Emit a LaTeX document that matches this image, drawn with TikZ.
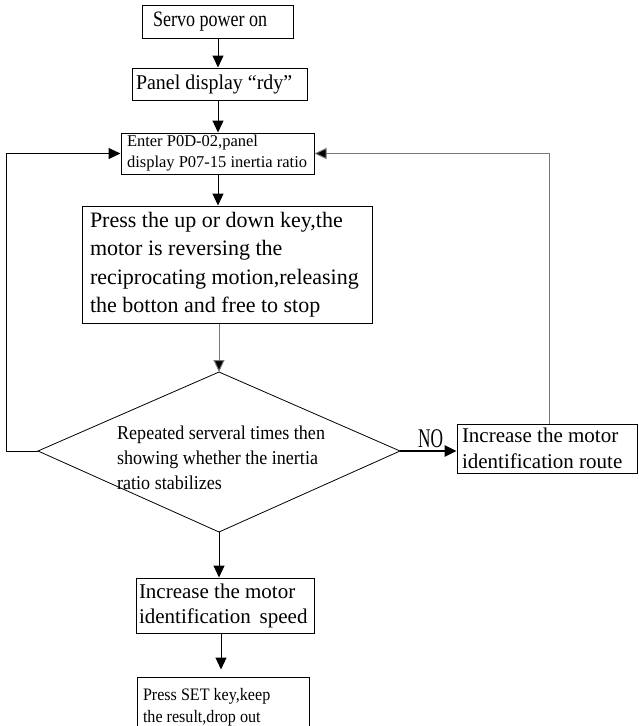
\documentclass[tikz,border=0pt]{standalone}
\usepackage{fontspec}
\setmainfont{Liberation Serif}
\newfontfamily\fA[FakeStretch=0.82]{Liberation Serif}
\newfontfamily\fB[FakeStretch=0.95]{Liberation Serif}
\newfontfamily\fC[FakeStretch=0.92]{Liberation Serif}
\newfontfamily\fN[FakeStretch=0.64]{Liberation Serif}
\usetikzlibrary{arrows.meta,shapes.geometric}
\definecolor{lgray}{RGB}{120,120,120}
\tikzset{
  box/.style={draw, line width=1pt, rectangle, inner ysep=0pt, align=flush left},
  arr/.style={-{Triangle[length=12pt,width=11pt]}, line width=1pt},
  garr/.style={draw=lgray, -{Triangle[length=12pt,width=11pt,fill=black]}, line width=1pt},
}
\begin{document}
\begin{tikzpicture}[x=1pt,y=-1pt]
\useasboundingbox (0,0) rectangle (638,726);
\coordinate (axis) at (218,0);
\coordinate (rx) at (549,0);
% boxes
\node[box, minimum width=151pt, minimum height=33pt, inner xsep=11pt, text width=129pt,
      font=\fA\fontsize{22}{26}\selectfont] (b1) at (217.5,21.5) {Servo power on};
\node[box, minimum width=175pt, minimum height=32pt, inner xsep=4pt, text width=167pt,
      font=\fB\fontsize{21}{25}\selectfont] (b2) at (219.5,84) {Panel display “rdy”};
\node[box, minimum width=193pt, minimum height=41pt, inner xsep=6pt, text width=181pt,
      font=\fontsize{16.5}{21}\selectfont] (b3) at (217.5,153.5) {Enter P0D-02,panel\\display P07-15 inertia ratio};
\node[box, minimum width=290pt, minimum height=117pt, inner xsep=8pt, text width=274pt,
      font=\fontsize{22}{28.5}\selectfont] (b4) at (227,264.5) {Press the up or down key,the\\motor is reversing the\\reciprocating motion,releasing\\the botton and free to stop};
\coordinate (dtop) at (219,372);
\coordinate (dbot) at (219,532);
\coordinate (dleft) at (38,451);
\coordinate (dright) at (400,451);
\draw[line width=0.8pt] (dtop) -- (dright) -- (dbot) -- (dleft) -- cycle;
\node[anchor=west, inner sep=0pt, align=left, font=\fC\fontsize{19.6}{25}\selectfont] (dtext) at (117,458)
  {Repeated serveral times then\\showing whether the inertia\\ratio stabilizes};
\node[box, minimum width=180pt, minimum height=49pt, inner xsep=5pt, text width=170pt,
      font=\fontsize{21}{26}\selectfont] (br) at (547,448.5) {Increase the motor\\identification route};
\node[box, minimum width=178pt, minimum height=55pt, inner xsep=3pt, text width=172pt,
      font=\fontsize{21}{25}\selectfont] (b5) at (225,605.5) {Increase the motor\\identification\ \,speed};
\node[box, minimum width=172pt, minimum height=60pt, inner xsep=6pt, text width=160pt,
      font=\fC\fontsize{17.5}{22}\selectfont] (b6) at (223,707) {Press SET key,keep\\the result,drop out};
\node[inner sep=0pt, anchor=base, font=\fN\fontsize{27}{30}\selectfont] (no) at (430.5,447) {NO};
\coordinate (lc) at (6,451);
% connectors
\draw[arr] (b1.south -| axis) -- (b2.north -| axis);
\draw[arr] (b2.south -| axis) -- (b3.north -| axis);
\draw[arr] (b3.south -| axis) -- (b4.north -| axis);
\draw[garr] (b4.south -| dtop) -- (dtop);
\draw[-{Triangle[length=12pt,width=11pt]}, line width=2.5pt] (dright) -- (dright -| br.west);
\draw[garr] (br.north -| rx) |- (b3.east);
\draw[arr] (dleft) -- (lc) |- (b3.west);
\draw[arr] (dbot) -- (b5.north -| dbot);
\draw[arr, shorten >=7pt] (b5.south -| 221,0) -- (b6.north -| 221,0);
\end{tikzpicture}
\end{document}
